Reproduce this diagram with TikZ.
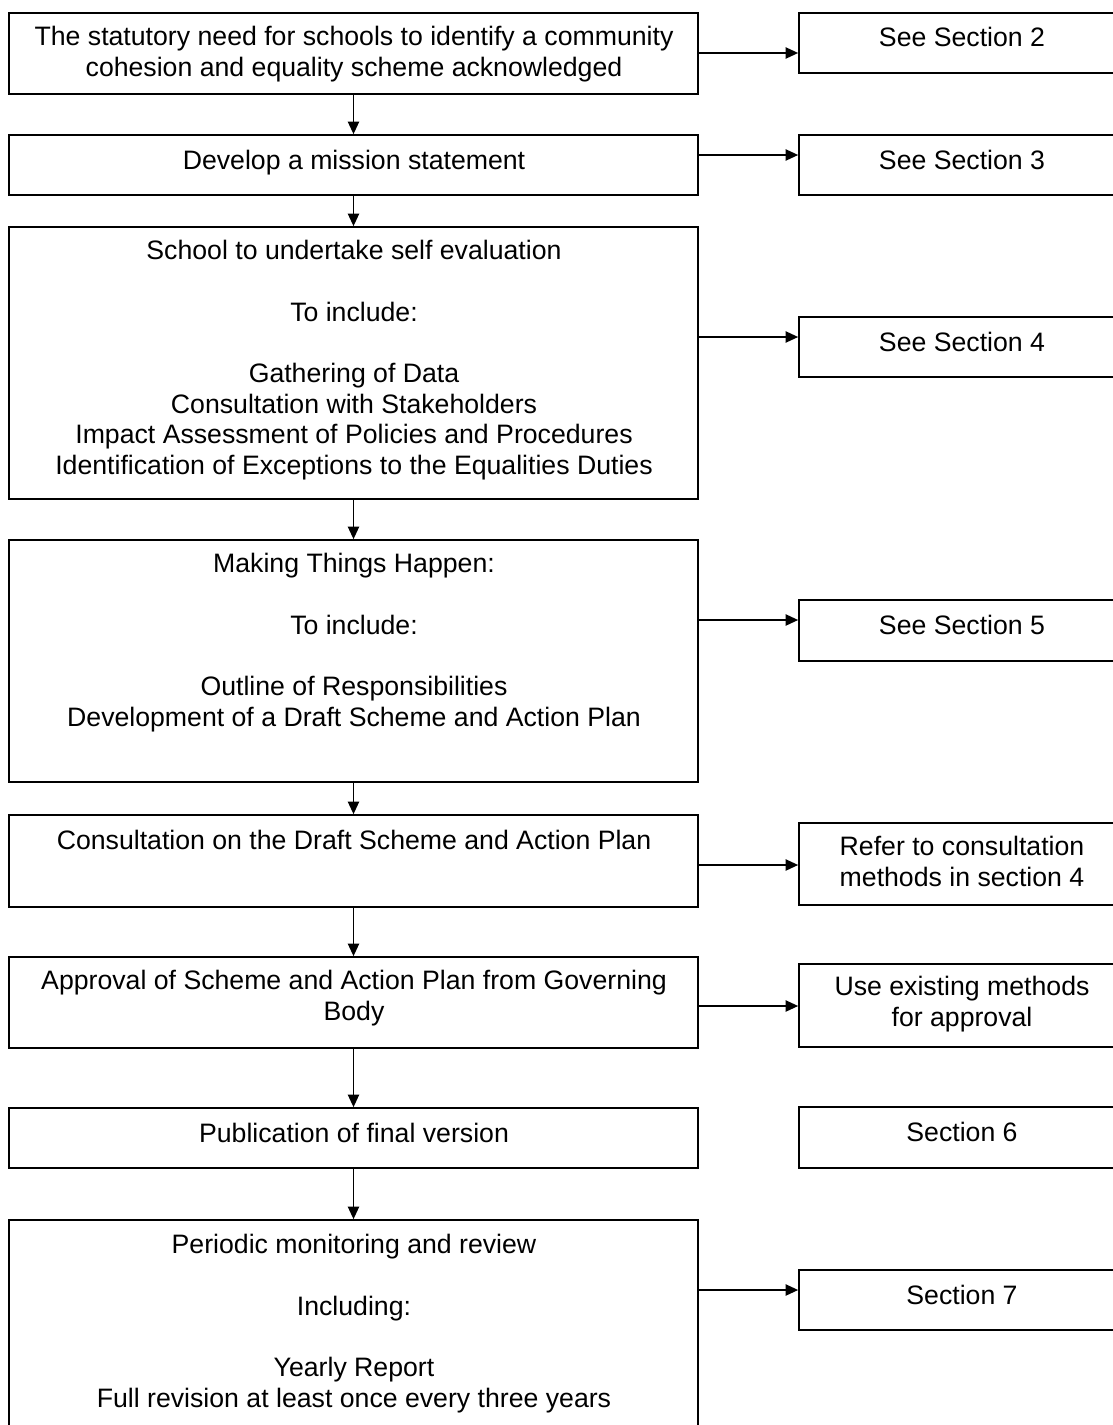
\documentclass[tikz,border=0pt]{standalone}
\usepackage{fontspec}
\setmainfont{Liberation Sans}
\usetikzlibrary{arrows.meta,fit}
\begin{document}
\begin{tikzpicture}[x=0.45pt,y=-0.45pt,
  box/.style={draw, line width=0.75pt, inner sep=0pt, rectangle},
  txt/.style={align=center, inner sep=0pt, anchor=north, font=\fontsize{12}{13.8}\selectfont, execute at begin node=\strut},
  arr/.style={line width=0.75pt, -{Triangle[length=5.6pt,width=5pt]}}]
\fill[white] (0,0) rectangle (1112,1425);
\useasboundingbox (0,0) rectangle (1112,1425);
% left boxes
\node[box, fit={(9,13) (698,94)}] (b1) {};
\node[box, fit={(9,135) (698,195)}] (b2) {};
\node[box, fit={(9,227) (698,499)}] (b3) {};
\node[box, fit={(9,540) (698,782)}] (b4) {};
\node[box, fit={(9,815) (698,907)}] (b5) {};
\node[box, fit={(9,957) (698,1048)}] (b6) {};
\node[box, fit={(9,1108) (698,1168)}] (b7) {};
\node[box, fit={(9,1220) (698,1445)}] (b8) {};
% right boxes
\node[box, fit={(799,13) (1125,73)}] (r1) {};
\node[box, fit={(799,135) (1125,195)}] (r2) {};
\node[box, fit={(799,317) (1125,377)}] (r3) {};
\node[box, fit={(799,600) (1125,661)}] (r4) {};
\node[box, fit={(799,823) (1125,905)}] (r5) {};
\node[box, fit={(799,964) (1125,1047)}] (r6) {};
\node[box, fit={(799,1107) (1125,1168)}] (r7) {};
\node[box, fit={(799,1270) (1125,1330)}] (r8) {};
% texts
\node[txt] (t1) at (354,26) {The statutory need for schools to identify a community\\cohesion and equality scheme acknowledged};
\node[txt] (t2) at (354,148) {Develop a mission statement};
\node[txt] (t3) at (354,240) {School to undertake self evaluation\\[13.8pt]To include:\\[13.8pt]Gathering of Data\\Consultation with Stakeholders\\Impact Assessment of Policies and Procedures\\Identification of Exceptions to the Equalities Duties};
\node[txt] (t4) at (354,553) {Making Things Happen:\\[13.8pt]To include:\\[13.8pt]Outline of Responsibilities\\Development of a Draft Scheme and Action Plan};
\node[txt] (t5) at (354,828) {Consultation on the Draft Scheme and Action Plan};
\node[txt] (t6) at (354,970) {Approval of Scheme and Action Plan from Governing\\Body};
\node[txt] (t7) at (354,1121) {Publication of final version};
\node[txt] (t8) at (354,1234) {Periodic monitoring and review\\[13.8pt]Including:\\[13.8pt]Yearly Report\\Full revision at least once every three years};
\node[txt] (s1) at (962,25) {See Section 2};
\node[txt] (s2) at (962,148) {See Section 3};
\node[txt] (s3) at (962,330) {See Section 4};
\node[txt] (s4) at (962,613) {See Section 5};
\node[txt] (s5) at (962,836) {Refer to consultation\\methods in section 4};
\node[txt] (s6) at (962,976) {Use existing methods\\for approval};
\node[txt] (s7) at (962,1120) {Section 6};
\node[txt] (s8) at (962,1283) {Section 7};
% vertical arrows
\draw[arr] (b1.south) -- (b2.north);
\draw[arr] (b2.south) -- (b3.north);
\draw[arr] (b3.south) -- (b4.north);
\draw[arr] (b4.south) -- (b5.north);
\draw[arr] (b5.south) -- (b6.north);
\draw[arr] (b6.south) -- (b7.north);
\draw[arr] (b7.south) -- (b8.north);
% horizontal arrows
\coordinate (y1) at (0,53);
\coordinate (y2) at (0,155);
\coordinate (y3) at (0,337);
\coordinate (y4) at (0,620);
\coordinate (y5) at (0,865);
\coordinate (y6) at (0,1006);
\coordinate (y8) at (0,1290);
\draw[arr] (b1.east |- y1) -- (r1.west |- y1);
\draw[arr] (b2.east |- y2) -- (r2.west |- y2);
\draw[arr] (b3.east |- y3) -- (r3.west |- y3);
\draw[arr] (b4.east |- y4) -- (r4.west |- y4);
\draw[arr] (b5.east |- y5) -- (r5.west |- y5);
\draw[arr] (b6.east |- y6) -- (r6.west |- y6);
\draw[arr] (b8.east |- y8) -- (r8.west |- y8);
\end{tikzpicture}
\end{document}
